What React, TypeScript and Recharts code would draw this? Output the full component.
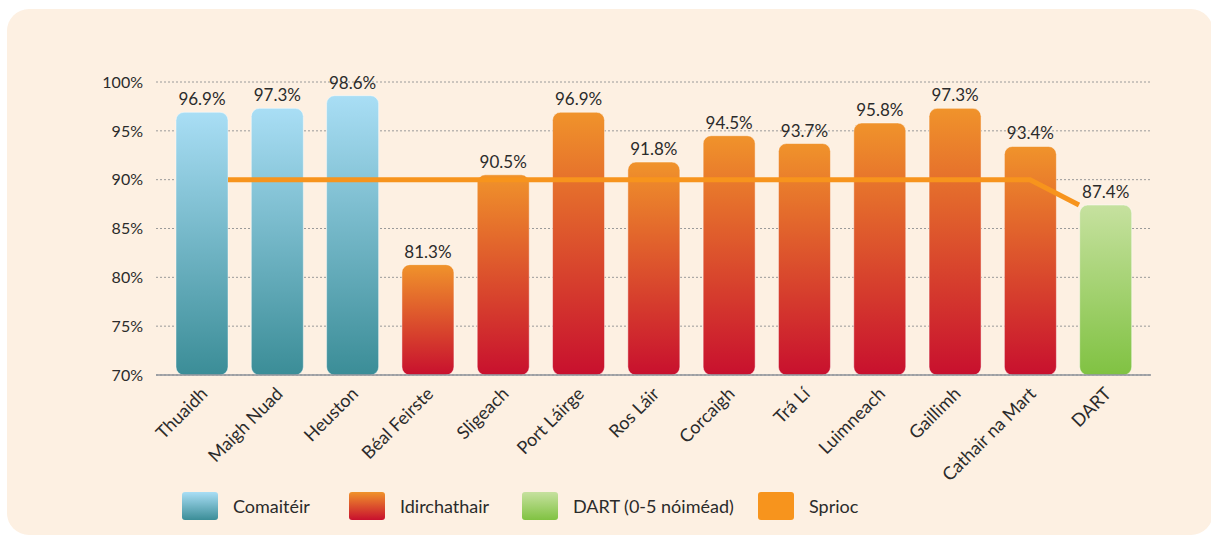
import React from 'react';
import { ComposedChart, Bar, Line, XAxis, YAxis, CartesianGrid, Cell, LabelList } from 'recharts';

const categories = ['Thuaidh', 'Maigh Nuad', 'Heuston', 'Béal Feirste', 'Sligeach', 'Port Láirge', 'Ros Láir', 'Corcaigh', 'Trá Lí', 'Luimneach', 'Gaillimh', 'Cathair na Mart', 'DART'];
const punctuality = [96.9, 97.3, 98.6, 81.3, 90.5, 96.9, 91.8, 94.5, 93.7, 95.8, 97.3, 93.4, 87.4];
const serviceType = ['comaiteir', 'comaiteir', 'comaiteir', 'idirchathair', 'idirchathair', 'idirchathair', 'idirchathair', 'idirchathair', 'idirchathair', 'idirchathair', 'idirchathair', 'idirchathair', 'dart'];
// target (Sprioc) line, x in category-index units
const targetPositions = [0.35, 11, 11.65];
const targetValues = [90, 90, 87.4];
const yTicks = [70, 75, 80, 85, 90, 95, 100];
const legendLabels = ['Comaitéir', 'Idirchathair', 'DART (0-5 nóiméad)', 'Sprioc'];
const legendKeys = ['comaiteir', 'idirchathair', 'dart', 'sprioc'];

const data = categories.map((name, i) => ({ name, value: punctuality[i], type: serviceType[i] }));
const targetData = targetPositions.map((x, i) => ({ x, target: targetValues[i] }));

const FONT = 'Lato, "Noto Sans", sans-serif';
const TEXT = '#2b2b2b';
const TARGET = '#f7941d';

const gradientFill: Record<string, string> = {
  comaiteir: 'url(#gComaiteir)',
  idirchathair: 'url(#gIdir)',
  dart: 'url(#gDart)',
};
const cssFill: Record<string, string> = {
  comaiteir: 'linear-gradient(#a9def5, #3b8d97)',
  idirchathair: 'linear-gradient(#f0932b, #c8102e)',
  dart: 'linear-gradient(#c6e19f, #80c242)',
  sprioc: TARGET,
};
const legendLeft = [175, 342, 515, 751];

const XTick = (props: any) => {
  const { x, y, payload } = props;
  return (
    <g transform={`translate(${x + 7},${y + 20}) rotate(-45)`}>
      <text x={0} y={0} textAnchor="end" fill={TEXT} fontSize={18} fontFamily={FONT}>
        {payload.value}
      </text>
    </g>
  );
};

export default function App() {
  return (
    <div
      style={{
        position: 'fixed',
        left: 7,
        top: 9,
        width: 1206,
        height: 526,
        background: '#fdf0e2',
        borderRadius: 22,
        fontFamily: FONT,
      }}
    >
      <ComposedChart
        width={1205}
        height={480}
        data={data}
        margin={{ top: 73, right: 61, bottom: 0, left: 89 }}
      >
        <defs>
          <linearGradient id="gComaiteir" x1="0" y1="0" x2="0" y2="1">
            <stop offset="0%" stopColor="#a9def5" />
            <stop offset="100%" stopColor="#3b8d97" />
          </linearGradient>
          <linearGradient id="gIdir" x1="0" y1="0" x2="0" y2="1">
            <stop offset="0%" stopColor="#f0932b" />
            <stop offset="100%" stopColor="#c8102e" />
          </linearGradient>
          <linearGradient id="gDart" x1="0" y1="0" x2="0" y2="1">
            <stop offset="0%" stopColor="#c6e19f" />
            <stop offset="100%" stopColor="#80c242" />
          </linearGradient>
        </defs>
        <CartesianGrid vertical={false} stroke="#9a9a9a" strokeDasharray="2 2" strokeWidth={1} />
        <XAxis
          xAxisId="cat"
          dataKey="name"
          type="category"
          interval={0}
          height={114}
          padding={{ left: 8, right: 8 }}
          tickLine={false}
          tickSize={0}
          tickMargin={0}
          axisLine={{ stroke: '#8d929a', strokeWidth: 1.5 }}
          tick={<XTick />}
        />
        <XAxis
          xAxisId="num"
          dataKey="x"
          type="number"
          domain={[-0.5, 12.5]}
          allowDataOverflow
          padding={{ left: 8, right: 8 }}
          hide
        />
        <YAxis
          domain={[70, 100]}
          ticks={yTicks}
          width={60}
          tickLine={false}
          axisLine={false}
          tickMargin={7}
          tickFormatter={(v: number) => `${v}%`}
          tick={{ fill: TEXT, fontSize: 16, fontFamily: FONT }}
        />
        <Bar
          xAxisId="cat"
          dataKey="value"
          barSize={52}
          radius={[8, 8, 8, 8]}
          stroke="rgba(255,255,255,0.45)"
          strokeWidth={1}
          isAnimationActive={false}
        >
          {data.map((d, i) => (
            <Cell key={i} fill={gradientFill[d.type]} />
          ))}
          <LabelList
            dataKey="value"
            position="top"
            offset={7}
            fill={TEXT}
            fontSize={17}
            fontFamily={FONT}
            formatter={(v: any) => `${Number(v).toFixed(1)}%`}
          />
        </Bar>
        <Line
          xAxisId="num"
          data={targetData}
          dataKey="target"
          stroke={TARGET}
          strokeWidth={5}
          dot={false}
          activeDot={false}
          isAnimationActive={false}
        />
      </ComposedChart>
      {legendLabels.map((label, i) => (
        <div
          key={label}
          style={{
            position: 'absolute',
            top: 483,
            left: legendLeft[i],
            display: 'flex',
            alignItems: 'center',
            height: 28,
          }}
        >
          <div
            style={{
              width: 36,
              height: 28,
              borderRadius: 3,
              background: cssFill[legendKeys[i]],
              marginRight: 15,
            }}
          />
          <span style={{ fontSize: 18, color: TEXT, whiteSpace: 'nowrap' }}>{label}</span>
        </div>
      ))}
    </div>
  );
}
